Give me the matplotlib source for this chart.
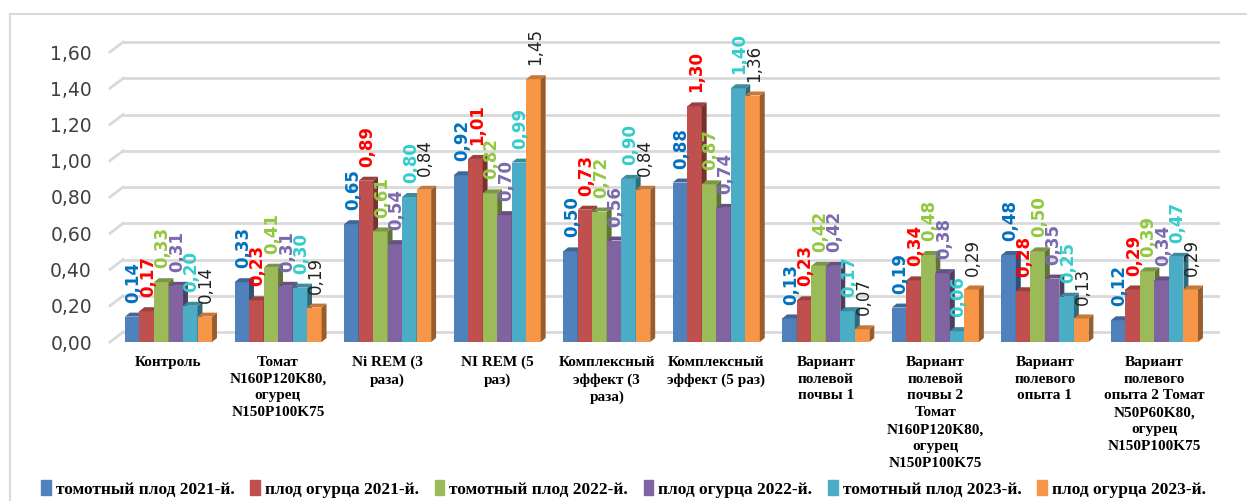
import matplotlib.pyplot as plt
from matplotlib.patches import Polygon, Rectangle
from matplotlib.colors import to_rgb

categories = [
    "Контроль",
    "Томат\nN160P120K80,\nогурец\nN150P100K75",
    "Ni REM (3\nраза)",
    "NI REM (5\nраз)",
    "Комплексный\nэффект (3\nраза)",
    "Комплексный\nэффект (5 раз)",
    "Вариант\nполевой\nпочвы 1",
    "Вариант\nполевой\nпочвы 2\nТомат\nN160P120K80,\nогурец\nN150P100K75",
    "Вариант\nполевого\nопыта 1",
    "Вариант\nполевого\nопыта 2 Томат\nN50P60K80,\nогурец\nN150P100K75",
]

series_names = [
    "томотный плод 2021-й.",
    "плод огурца 2021-й.",
    "томотный плод 2022-й.",
    "плод огурца 2022-й.",
    "томотный плод 2023-й.",
    "плод огурца 2023-й.",
]

tomato_2021 = [0.14, 0.33, 0.65, 0.92, 0.50, 0.88, 0.13, 0.19, 0.48, 0.12]
cucumber_2021 = [0.17, 0.23, 0.89, 1.01, 0.73, 1.30, 0.23, 0.34, 0.28, 0.29]
tomato_2022 = [0.33, 0.41, 0.61, 0.82, 0.72, 0.87, 0.42, 0.48, 0.50, 0.39]
cucumber_2022 = [0.31, 0.31, 0.54, 0.70, 0.56, 0.74, 0.42, 0.38, 0.35, 0.34]
tomato_2023 = [0.20, 0.30, 0.80, 0.99, 0.90, 1.40, 0.17, 0.06, 0.25, 0.47]
cucumber_2023 = [0.14, 0.19, 0.84, 1.45, 0.84, 1.36, 0.07, 0.29, 0.13, 0.29]

yticks = [0.0, 0.2, 0.4, 0.6, 0.8, 1.0, 1.2, 1.4, 1.6]

values = [tomato_2021, cucumber_2021, tomato_2022, cucumber_2022, tomato_2023, cucumber_2023]
bar_colors = ["#4F81BD", "#C0504D", "#9BBB59", "#8064A2", "#4BACC6", "#F79646"]
label_colors = ["#0070C0", "#FF0000", "#92C83E", "#7A6AAE", "#33CCCC", "#222222"]
label_weights = ["bold", "bold", "bold", "bold", "bold", "normal"]


def shade(c, f):
    r, g, b = to_rgb(c)
    return (r * f, g * f, b * f)


fig = plt.figure(figsize=(12.47, 5.01), dpi=100)
# outer frame
fig.patches.append(Rectangle((10 / 1247, -0.01), 1.0, (501 - 14) / 501 + 0.01,
                             transform=fig.transFigure, fill=False,
                             edgecolor="#D9D9D9", lw=1.5))

ax = fig.add_axes([110 / 1247, 159 / 501, 1108 / 1247, 290 / 501])
xmin, xmax = -0.534, 9.58
ax.set_xlim(xmin, xmax)
ax.set_ylim(0, 1.6)
for s in ax.spines.values():
    s.set_visible(False)

# back-wall gridlines with little floor slash at the left
gx, gy = 0.12, 0.055
for v in yticks:
    ax.plot([xmin, xmin + gx], [v, v + gy], color="#D9D9D9", lw=2, zorder=0.5, clip_on=False)
    ax.plot([xmin + gx, xmax], [v + gy, v + gy], color="#D9D9D9", lw=2, zorder=0.5, clip_on=False)

width = 0.1325
dx, dy = 0.045, 0.022
n = len(values)
for i, (vals, col) in enumerate(zip(values, bar_colors)):
    xs = [k + (i - (n - 1) / 2) * width for k in range(len(categories))]
    bars = ax.bar(xs, vals, width=width, color=col, zorder=2 + i, clip_on=False, lw=0)
    for b in bars:
        x0, h = b.get_x(), b.get_height()
        x1 = x0 + width
        ax.add_patch(Polygon([(x1, 0), (x1 + dx, dy), (x1 + dx, h + dy), (x1, h)],
                             closed=True, color=shade(col, 0.62), lw=0, zorder=2 + i, clip_on=False))
        ax.add_patch(Polygon([(x0, h), (x0 + dx, h + dy), (x1 + dx, h + dy), (x1, h)],
                             closed=True, color=shade(col, 0.8), lw=0, zorder=2 + i, clip_on=False))
    for x, v in zip(xs, vals):
        ax.annotate(f"{v:.2f}".replace(".", ","), (x + width * 0.1, v), xytext=(0, 10),
                    textcoords="offset points", rotation=90, ha="center", va="bottom",
                    fontsize=12, color=label_colors[i], fontweight=label_weights[i],
                    zorder=20, annotation_clip=False)

ax.set_yticks(yticks, [f"{v:.2f}".replace(".", ",") for v in yticks])
ax.tick_params(axis="y", length=0, pad=13, labelsize=13.5, labelcolor="#404040")
ax.set_xticks(range(len(categories)), categories)
ax.tick_params(axis="x", length=0, pad=10)
for t in ax.get_xticklabels():
    t.set_fontfamily("Liberation Serif")
    t.set_fontweight("bold")
    t.set_fontsize(11)
    t.set_linespacing(1.38)

handles = [Rectangle((0, 0), 1, 1, color=c) for c in bar_colors]
fig.legend(handles, series_names, loc="center", bbox_to_anchor=(0.5, 12 / 501), ncol=6,
           frameon=False, handlelength=0.55, handleheight=0.9, handletextpad=0.3,
           columnspacing=0.9, prop={"family": "Liberation Serif", "weight": "bold", "size": 12.5})

fig.savefig("out.png", dpi=100)
